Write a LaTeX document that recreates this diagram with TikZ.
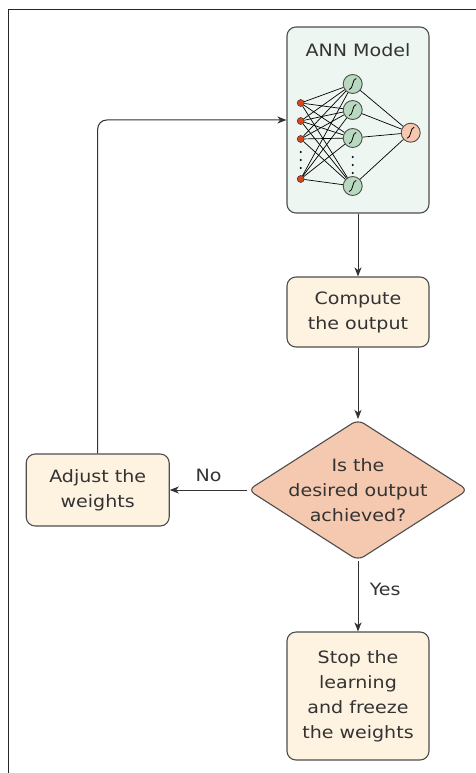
\documentclass[tikz,border=0pt]{standalone}
\usepackage{fontspec}
\setmainfont{DejaVu Sans}[FakeStretch=1.12]
\usetikzlibrary{shapes.geometric,arrows.meta}
\definecolor{boxfill}{HTML}{FEF3E1}
\definecolor{decfill}{HTML}{F5C9AF}
\definecolor{modelfill}{HTML}{EEF6F1}
\definecolor{hidfill}{HTML}{B9D8C0}
\definecolor{outfill}{HTML}{F7C8AF}
\definecolor{infill}{HTML}{D9461E}
\definecolor{edgegray}{HTML}{4D4D4D}
\definecolor{textgray}{HTML}{333333}
\begin{document}
\begin{tikzpicture}[x=1pt,y=-1pt,
  every node/.style={text=textgray, font=\fontsize{17}{25}\selectfont},
  stepbox/.style={draw=edgegray, line width=1.1pt, fill=boxfill, rounded corners=9pt,
    align=center, minimum width=142pt, inner sep=0pt},
  decbox/.style={diamond, draw=edgegray, line width=1.1pt, fill=decfill, rounded corners=7pt,
    minimum width=220pt, minimum height=141pt, inner sep=-30pt, align=center},
  flow/.style={draw=textgray, line width=1pt, -{Stealth[length=9pt,width=7pt,inset=2.5pt]}},
  wire/.style={black, line width=0.7pt},
  innode/.style={circle, draw=black!80, line width=0.5pt, fill=infill, minimum size=7pt, inner sep=0pt},
  hidnode/.style={circle, draw=edgegray, line width=0.9pt, fill=hidfill, minimum size=19pt, inner sep=0pt},
  outnode/.style={circle, draw=edgegray, line width=0.9pt, fill=outfill, minimum size=19pt, inner sep=0pt},
  sig/.style={black, line width=0.8pt}]
  \useasboundingbox (0,0) rectangle (476,773);
  % Frame
  \draw[black!85, line width=1.5pt] (8.5,773) -- (8.5,9.5) -- (476,9.5);
  % Model box
  \node[stepbox, fill=modelfill, minimum width=142pt, minimum height=186pt] (model) at (358,120) {};
  \node (title) at (358,50) {ANN Model};
  % Neurons
  \foreach \n/\y in {1/103, 2/121, 3/139, 4/179} {
    \node[innode] (i\n) at (300.7,\y) {};
  }
  \foreach \n/\y in {1/84, 2/110, 3/138, 4/186} {
    \node[hidnode] (h\n) at (352.7,\y) {};
  }
  \node[outnode] (o) at (410.7,132.7) {};
  % Weights
  \foreach \a in {1,...,4} {
    \foreach \b in {1,...,4} {
      \draw[wire] (i\a) -- (h\b);
    }
  }
  \foreach \b in {1,...,4} {
    \draw[wire] (h\b) -- (o);
  }
  % Sigmoid marks
  \foreach \s in {h1, h2, h3, h4, o} {
    \draw[sig] ([shift={(-3.5,5.5)}]\s.center) .. controls ([shift={(0.5,5.5)}]\s.center)
      and ([shift={(-0.5,-5.5)}]\s.center) .. ([shift={(3.5,-5.5)}]\s.center);
  }
  % Vertical dots
  \foreach \y in {152, 160, 168} {
    \fill[black] (300.7,\y) circle (1.1pt);
  }
  \foreach \y in {157, 165, 173} {
    \fill[black] (352.7,\y) circle (1.1pt);
  }
  % Flow boxes
  \node[stepbox, minimum height=70pt] (compute) at (358,312) {Compute\\the output};
  \node[decbox] (dec) at (358,490) {Is the\\desired output\\achieved?};
  \node[stepbox, minimum height=128pt] (stop) at (358,696) {Stop the\\learning\\and freeze\\the weights};
  \node[stepbox, minimum width=143pt, minimum height=72pt] (adjust) at (97.7,490) {Adjust the\\weights};
  % Connectors
  \draw[flow] (model) -- (compute);
  \draw[flow] (compute) -- (dec);
  \draw[flow] (dec) -- node[pos=0.4, right=8pt] (yes) {Yes} (stop);
  \draw[flow] (dec.west) -- node[above=4pt] (no) {No} (adjust.east);
  \draw[flow, rounded corners=9pt] (adjust.north) |- (model.west);
\end{tikzpicture}
\end{document}
